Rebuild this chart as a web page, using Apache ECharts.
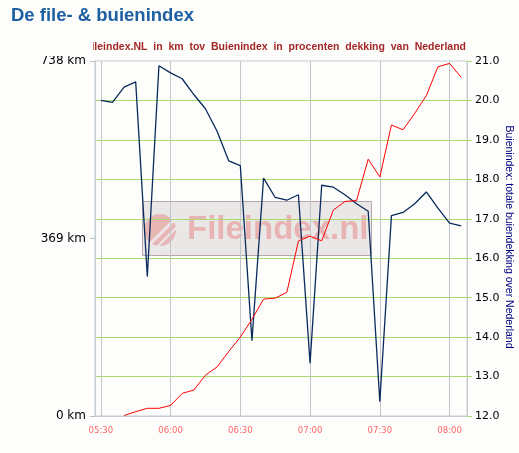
<!DOCTYPE html>
<html><head><meta charset="utf-8">
<script src="https://cdn.jsdelivr.net/npm/echarts@6/dist/echarts.min.js"></script>
<style>html,body{margin:0;padding:0;background:#fdfefb;}#c{width:519px;height:453px;}</style>
</head><body><div id="c"></div>
<script>
var times = ['05:30','05:35','05:40','05:45','05:50','05:55','06:00','06:05','06:10','06:15','06:20','06:25','06:30','06:35','06:40','06:45','06:50','06:55','07:00','07:05','07:10','07:15','07:20','07:25','07:30','07:35','07:40','07:45','07:50','07:55','08:00','08:05'];
var fileKm = [null,null,1,9,16,16,22,47,54,85,102,134,164,201,243,245,257,364,374,364,428,446,448,534,497,605,595,629,666,726,733,704];
var buienPct = [20.0,19.95,20.34,20.47,15.54,20.88,20.70,20.55,20.15,19.79,19.22,18.47,18.35,13.91,18.03,17.54,17.47,17.61,13.34,17.85,17.80,17.61,17.38,17.19,12.36,17.08,17.16,17.38,17.68,17.27,16.89,16.82];
var xTickLabels = ['05:30','06:00','06:30','07:00','07:30','08:00'];
var leftTicks = [0,369,738];

function toMin(t){var p=t.split(':');return +p[0]*60+ +p[1];}
function fmt(m){var h=Math.floor(m/60),mm=Math.round(m%60);return (h<10?'0':'')+h+':'+(mm<10?'0':'')+mm;}
var xTickVals = xTickLabels.map(toMin);
var fileData = times.map(function(t,i){return [toMin(t), fileKm[i]];});
var buienData = times.map(function(t,i){return [toMin(t), buienPct[i]];});

var chart = echarts.init(document.getElementById('c'));
chart.setOption({
  backgroundColor:'#fdfefb',
  animation:false,
  grid:{left:95,right:52,top:61,bottom:37,containLabel:false,outerBoundsMode:'none',show:true,borderColor:'#c4ccd6',borderWidth:1,backgroundColor:'transparent'},
  xAxis:{type:'value',min:327.5,max:487.5,
    axisLine:{show:true,lineStyle:{color:'#c4ccd6'}},
    axisTick:{show:false,customValues:xTickVals},
    axisLabel:{customValues:xTickVals,formatter:function(v){return fmt(v);},color:'#ff6666',fontSize:8.5,fontFamily:'DejaVu Sans',margin:10},
    splitLine:{show:true,lineStyle:{color:'#c4c4cc',width:1}}
  },
  yAxis:[
    {type:'value',min:0,max:738,position:'left',
      axisLine:{show:true,lineStyle:{color:'#c4ccd6'}},
      axisTick:{show:true,length:5,customValues:leftTicks,lineStyle:{color:'#b8c0c8'}},
      axisLabel:{customValues:leftTicks,formatter:'{value} km',color:'#000',fontSize:12,fontFamily:'DejaVu Sans',margin:9},
      splitLine:{show:false}},
    {type:'value',min:12,max:21,interval:1,position:'right',
      axisLine:{show:true,lineStyle:{color:'#c4ccd6'}},
      axisTick:{show:true,length:5,lineStyle:{color:'#a8dc70'}},
      axisLabel:{formatter:function(v){return v.toFixed(1);},color:'#000',fontSize:11,fontFamily:'DejaVu Sans',margin:8},
      splitLine:{show:true,showMinLine:false,showMaxLine:false,lineStyle:{color:'#a8dc70',width:1}}}
  ],
  graphic:[
    {type:'text',left:11,top:6,style:{text:'De file- & buienindex',fill:'#1d5fa0',font:'bold 18.5px "Liberation Sans"'}},
    {type:'group',z:1,children:[
      {type:'rect',shape:{x:142.5,y:201.5,width:229,height:54},style:{fill:'rgba(222,216,218,0.62)',stroke:'#b8a6ae',lineWidth:1}},
      {type:'circle',shape:{cx:160,cy:230,r:16},style:{fill:'rgba(232,150,150,0.6)'}},
      {type:'line',shape:{x1:148,y1:246,x2:176,y2:218},style:{stroke:'rgba(240,236,236,0.9)',lineWidth:3}},
      {type:'line',shape:{x1:154,y1:250,x2:178,y2:226},style:{stroke:'rgba(240,236,236,0.9)',lineWidth:2}},
      {type:'text',x:187,y:230,style:{text:'Fileindex.nl',fill:'rgba(230,145,145,0.6)',font:'bold 33px "Liberation Sans"',textVerticalAlign:'middle'}}
    ]},
    {type:'text',z:5,x:509,y:237,rotation:-Math.PI/2,style:{text:'Buienindex: totale buiendekking over Nederland',fill:'#000080',font:'10.5px "Liberation Sans"',textAlign:'center',textVerticalAlign:'middle'}},
    {type:'text',z:5,x:466,y:47,style:{text:'Fileindex.NL  in  km  tov  Buienindex  in  procenten  dekking  van  Nederland',fill:'#a52828',font:'bold 10.5px "Liberation Sans"',textAlign:'right',textVerticalAlign:'middle'}},
    {type:'rect',z:6,shape:{x:0,y:38,width:93,height:18},style:{fill:'#fdfefb'}}
  ],
  series:[
    {type:'line',yAxisIndex:1,data:buienData,showSymbol:false,symbol:'none',lineStyle:{color:'#0a2a5c',width:1.3},z:3},
    {type:'line',yAxisIndex:0,data:fileData,showSymbol:false,symbol:'none',lineStyle:{color:'#ff0000',width:1},z:4}
  ]
});
</script></body></html>
